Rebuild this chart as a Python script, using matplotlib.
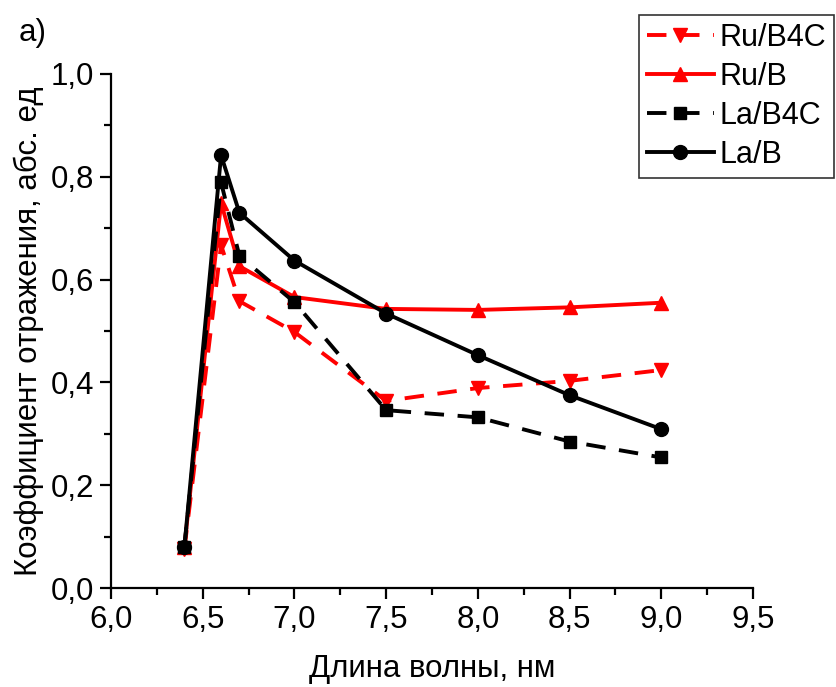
import matplotlib
matplotlib.use("Agg")
import matplotlib.pyplot as plt
from matplotlib.ticker import MultipleLocator, FuncFormatter

plt.rcParams['font.family'] = ['Liberation Sans', 'DejaVu Sans']

wavelength = [6.4, 6.6, 6.7, 7.0, 7.5, 8.0, 8.5, 9.0]
ru_b4c = [0.075, 0.667, 0.558, 0.498, 0.364, 0.389, 0.403, 0.424]
ru_b = [0.080, 0.749, 0.626, 0.566, 0.543, 0.541, 0.546, 0.555]
la_b4c = [0.080, 0.789, 0.646, 0.556, 0.346, 0.332, 0.285, 0.254]
la_b = [0.080, 0.842, 0.730, 0.637, 0.534, 0.453, 0.375, 0.309]

fig = plt.figure(figsize=(8.36, 6.87), dpi=100)
ax = fig.add_axes([0.1328, 0.1441, 0.9007 - 0.1328, 0.8923 - 0.1441])

fs = 22.5
lw = 2.8
dash = (0, (5, 3.5))
ax.plot(wavelength, ru_b4c, color='#ff0000', lw=lw, linestyle=dash,
        marker='v', ms=10.5, label='Ru/B4C')
ax.plot(wavelength, ru_b, color='#ff0000', lw=lw, linestyle='-',
        marker='^', ms=10.5, label='Ru/B')
ax.plot(wavelength, la_b4c, color='black', lw=lw, linestyle=dash,
        marker='s', ms=8.5, label='La/B4C')
ax.plot(wavelength, la_b, color='black', lw=lw, linestyle='-',
        marker='o', ms=10, label='La/B')

ax.set_xlim(6.0, 9.5)
ax.set_ylim(0.0, 1.0)
ax.xaxis.set_major_locator(MultipleLocator(0.5))
ax.xaxis.set_minor_locator(MultipleLocator(0.25))
ax.yaxis.set_major_locator(MultipleLocator(0.2))
ax.yaxis.set_minor_locator(MultipleLocator(0.1))
comma = FuncFormatter(lambda v, p: f"{v:.1f}".replace('.', ','))
ax.xaxis.set_major_formatter(comma)
ax.yaxis.set_major_formatter(comma)

for side in ('top', 'right'):
    ax.spines[side].set_visible(False)
for side in ('left', 'bottom'):
    ax.spines[side].set_linewidth(1.6)

ax.tick_params(which='major', direction='out', length=8, width=1.6,
               labelsize=fs, pad=4)
ax.tick_params(which='minor', direction='out', length=5, width=1.6)

ax.set_xlabel('Длина волны, нм', fontsize=fs, labelpad=14)
ax.set_ylabel('Коэффициент отражения, абс. ед', fontsize=fs, labelpad=5)

fig.text(0.022, 0.952, 'a)', fontsize=fs, ha='left', va='center')

leg = fig.legend(loc='upper left', bbox_to_anchor=(639 / 836, 1 - 15 / 687),
                 fontsize=22, frameon=True, fancybox=False, framealpha=1,
                 edgecolor='#333333', handlelength=2.2, handletextpad=0.2,
                 labelspacing=0.3, borderpad=0.25, borderaxespad=0)
leg.get_frame().set_linewidth(1.2)

fig.savefig('out.png', dpi=100)
